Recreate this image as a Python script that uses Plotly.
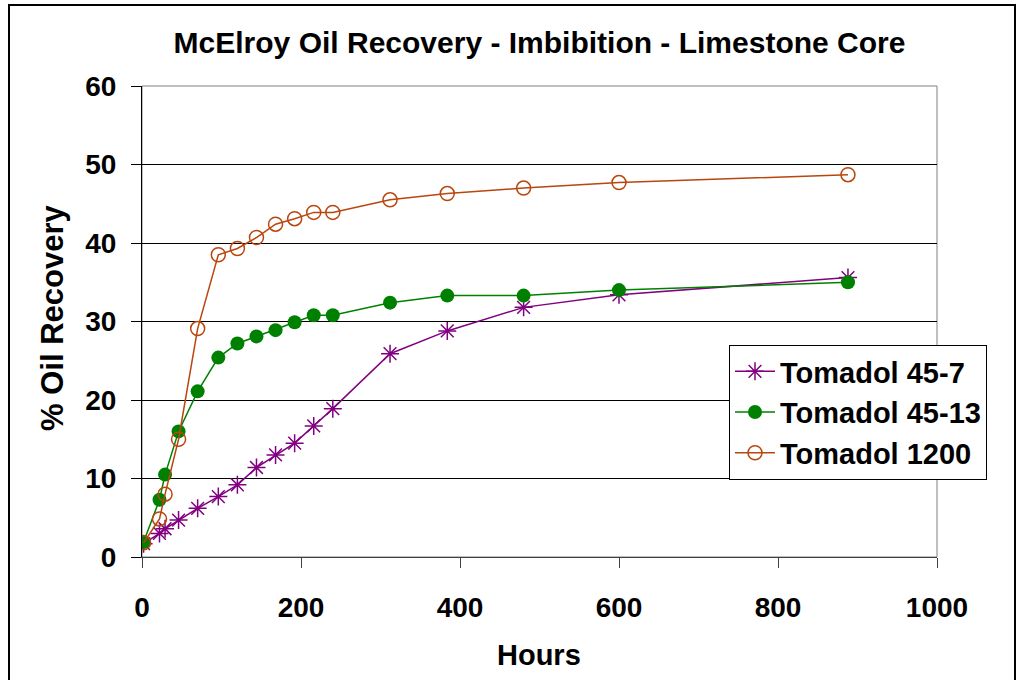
import plotly.graph_objects as go

hours = [2, 22, 29, 46, 70, 96, 120, 144, 168, 192, 216, 240, 312, 384, 480, 600, 888]
tomadol_45_7 = [1.7, 3.0, 3.6, 4.7, 6.2, 7.7, 9.2, 11.4, 13.0, 14.5, 16.7, 18.9, 25.9, 28.8, 31.8, 33.4, 35.6]
tomadol_45_13 = [1.9, 7.3, 10.5, 16.0, 21.1, 25.4, 27.2, 28.1, 28.9, 29.9, 30.8, 30.8, 32.4, 33.3, 33.3, 34.0, 35.0]
tomadol_1200 = [1.8, 4.85, 8.0, 15.0, 29.1, 38.5, 39.3, 40.7, 42.4, 43.1, 43.9, 43.9, 45.5, 46.3, 47.0, 47.7, 48.7]

x_ticks = [0, 200, 400, 600, 800, 1000]
y_ticks = [0, 10, 20, 30, 40, 50, 60]

PURPLE = "#800080"
GREEN = "#008000"
ORANGE = "#B8460E"
FONT = "Arial, Liberation Sans, sans-serif"

fig = go.Figure()
fig.add_trace(go.Scatter(
    x=hours, y=tomadol_45_7, name="<b>Tomadol 45-7</b>", mode="lines+markers",
    line=dict(color=PURPLE, width=1.5),
    marker=dict(symbol="asterisk-open", size=15, color=PURPLE, line=dict(color=PURPLE, width=1.5)),
))
fig.add_trace(go.Scatter(
    x=hours, y=tomadol_45_13, name="<b>Tomadol 45-13</b>", mode="lines+markers",
    line=dict(color=GREEN, width=1.5),
    marker=dict(symbol="circle", size=14, color=GREEN, line=dict(width=0)),
))
fig.add_trace(go.Scatter(
    x=hours, y=tomadol_1200, name="<b>Tomadol 1200</b>", mode="lines+markers",
    line=dict(color=ORANGE, width=1.5),
    marker=dict(symbol="circle-open", size=14, color=ORANGE, line=dict(color=ORANGE, width=1.5)),
))

W, H = 1018, 680
L, R, T, B = 142, 81, 86, 123
pw, ph = W - L - R, H - T - B

def px_x(p):
    return (p - L) / pw

def px_y(p):
    return (H - B - p) / ph

fig.update_layout(
    width=W, height=H,
    margin=dict(l=L, r=R, t=T, b=B, pad=0),
    paper_bgcolor="white", plot_bgcolor="white",
    font=dict(family=FONT, color="black"),
    title=dict(text="<b>McElroy Oil Recovery - Imbibition - Limestone Core</b>",
               x=0.5, xref="paper", xanchor="center",
               y=1 - 42 / H, yref="container", yanchor="middle",
               font=dict(size=30, family=FONT, color="black")),
    xaxis=dict(range=[0, 1000], tickvals=x_ticks, ticktext=[f"<b>{v}</b>" for v in x_ticks],
               showgrid=False, zeroline=False, showline=True, linecolor="#404040", linewidth=1,
               ticks="outside", ticklen=10, tickcolor="#404040", tickwidth=1,
               ticklabelstandoff=15,
               tickfont=dict(size=28, family=FONT, color="black")),
    yaxis=dict(range=[0, 60], tickvals=y_ticks, ticktext=[f"<b>{v}</b>" for v in y_ticks],
               showgrid=True, gridcolor="black", gridwidth=1, zeroline=False,
               showline=True, linecolor="black", linewidth=1,
               ticks="outside", ticklen=10, tickcolor="black", tickwidth=1,
               ticklabelstandoff=9,
               tickfont=dict(size=28, family=FONT, color="black")),
    showlegend=True,
    legend=dict(x=px_x(729), y=px_y(345), xanchor="left", yanchor="top",
                bordercolor="black", borderwidth=1, bgcolor="white",
                font=dict(size=29, family=FONT, color="black"),
                itemwidth=40, tracegroupgap=0),
    shapes=[
        dict(type="rect", xref="paper", yref="paper", x0=0, x1=1, y0=0, y1=1,
             line=dict(color="#808080", width=1), layer="below"),
        dict(type="rect", xref="paper", yref="paper",
             x0=px_x(9), x1=px_x(1015), y0=px_y(5), y1=px_y(690),
             line=dict(color="black", width=2), layer="below"),
    ],
    annotations=[
        dict(text="<b>% Oil Recovery</b>", textangle=-90, xref="paper", yref="paper",
             x=px_x(52), y=px_y(318), xanchor="center", yanchor="middle", showarrow=False,
             font=dict(size=31, family=FONT, color="black")),
        dict(text="<b>Hours</b>", xref="paper", yref="paper",
             x=px_x(539), y=px_y(655), xanchor="center", yanchor="middle", showarrow=False,
             font=dict(size=29, family=FONT, color="black")),
    ],
)

fig.write_html("out.html")
